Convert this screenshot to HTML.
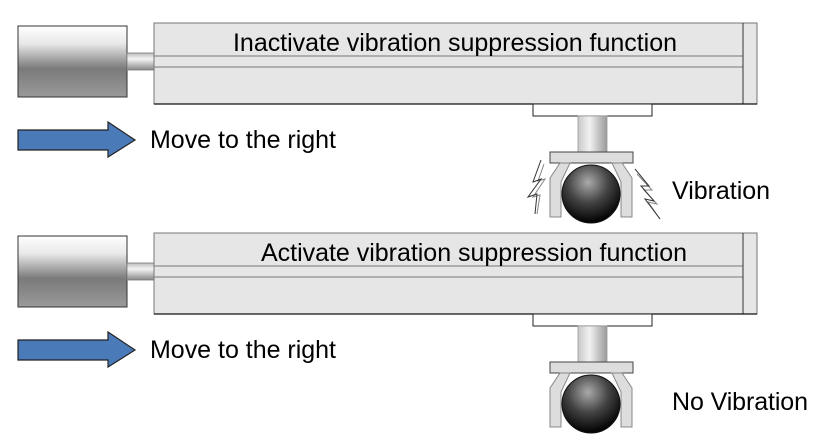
<!DOCTYPE html>
<html><head><style>
body{margin:0;background:#fff;}
svg{display:block}
text{font-family:"Liberation Sans",Arial,sans-serif;fill:#000}
</style></head><body>
<svg width="828" height="447" viewBox="0 0 828 447">
<defs>
<linearGradient id="mot" x1="0" y1="0" x2="0" y2="1">
<stop offset="0" stop-color="#fff"/><stop offset="0.25" stop-color="#e8e8e8"/><stop offset="0.6" stop-color="#7a7a7a"/><stop offset="1" stop-color="#9a9a9a"/></linearGradient>
<linearGradient id="rod" x1="0" y1="0" x2="0" y2="1">
<stop offset="0" stop-color="#bbb"/><stop offset="0.35" stop-color="#f4f4f4"/><stop offset="1" stop-color="#888"/></linearGradient>
<linearGradient id="vrod" x1="0" y1="0" x2="1" y2="0">
<stop offset="0" stop-color="#c8c8c8"/><stop offset="0.4" stop-color="#f2f2f2"/><stop offset="1" stop-color="#999"/></linearGradient>
<radialGradient id="ball" cx="0.45" cy="0.3" r="0.7">
<stop offset="0" stop-color="#aaa"/><stop offset="0.5" stop-color="#444"/><stop offset="1" stop-color="#000"/></radialGradient>
<g id="unit">
<rect x="18" y="26" width="109" height="71" fill="url(#mot)" stroke="#333" stroke-width="1"/>
<rect x="127" y="53" width="27" height="17" fill="url(#rod)" stroke="#777" stroke-width="0.8"/>
<rect x="154" y="23" width="603" height="81" fill="#e6e6e6" stroke="#777" stroke-width="1"/>
<line x1="154" y1="56" x2="743" y2="56" stroke="#777" stroke-width="1"/>
<line x1="154" y1="67" x2="743" y2="67" stroke="#777" stroke-width="1"/>
<line x1="743" y1="23" x2="743" y2="104" stroke="#333" stroke-width="1"/>
<line x1="154" y1="104" x2="757" y2="104" stroke="#111" stroke-width="1.2"/>
<rect x="533" y="104" width="119" height="12" fill="#fff" stroke="#222" stroke-width="1"/>
<rect x="578" y="116" width="29" height="36" fill="url(#vrod)" stroke="#999" stroke-width="0.8"/>
<rect x="550" y="152" width="83" height="11" fill="#ddd" stroke="#444" stroke-width="1"/>
<polygon points="560,163 570,163 561,182 561,217 550,217 550,178" fill="#ddd" stroke="#888" stroke-width="1"/>
<polygon points="622,163 612,163 621,182 621,217 632,217 632,178" fill="#ddd" stroke="#888" stroke-width="1"/>
<circle cx="591" cy="194" r="29" fill="url(#ball)" stroke="#111" stroke-width="1"/>
<polygon points="18,130 108,130 108,122 135,140 108,157 108,150 18,150" fill="#4a7ab8" stroke="#222" stroke-width="1.2"/>
<text x="150" y="148" font-size="25" textLength="186">Move to the right</text>
</g>
</defs>
<use href="#unit"/>
<use href="#unit" transform="translate(0,210)"/>
<text x="233" y="51" font-size="25" textLength="444">Inactivate vibration suppression function</text>
<text x="261" y="261" font-size="25" textLength="426">Activate vibration suppression function</text>
<text x="672" y="199" font-size="25" textLength="98">Vibration</text>
<text x="672" y="410" font-size="25" textLength="136">No Vibration</text>
<polyline points="541,160 533,182 541,179 528,197 537,194 535,214" fill="none" stroke="#333" stroke-width="1"/>
<polyline points="544,164 538,181 545,179 533,197 540,195 537,214" fill="none" stroke="#333" stroke-width="1" opacity="0.6"/>
<polyline points="635,169 649,186 641,186 654,201 645,199 660,219" fill="none" stroke="#333" stroke-width="1"/>
<polyline points="637,174 652,190 644,190 657,204 648,202 660,219" fill="none" stroke="#333" stroke-width="1" opacity="0.6"/>
</svg>
</body></html>
